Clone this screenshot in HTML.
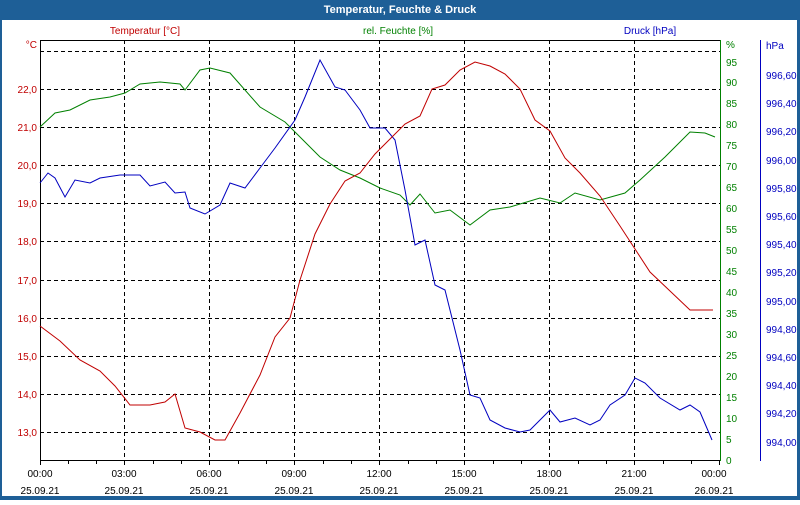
<!DOCTYPE html>
<html><head><meta charset="utf-8"><style>
body{margin:0;width:800px;height:500px;overflow:hidden;background:#fff;font-family:"Liberation Sans",sans-serif}
</style></head><body>
<svg width="800" height="500" xmlns="http://www.w3.org/2000/svg" font-family="Liberation Sans, sans-serif" font-size="10">
<rect x="0" y="0" width="800" height="500" fill="#1e5f97"/>
<rect x="2" y="20" width="795" height="476" fill="#fff"/>
<text x="400" y="13" fill="#fff" font-weight="bold" font-size="11" text-anchor="middle">Temperatur, Feuchte &amp; Druck</text>
<text x="145" y="34" fill="#c00000" text-anchor="middle">Temperatur [°C]</text>
<text x="398" y="34" fill="#008000" text-anchor="middle">rel. Feuchte [%]</text>
<text x="650" y="34" fill="#0000c0" text-anchor="middle">Druck [hPa]</text>
<g stroke="#000" stroke-dasharray="4,3" stroke-width="1">
<line x1="40" y1="51.5" x2="720" y2="51.5"/><line x1="40" y1="89.5" x2="720" y2="89.5"/><line x1="40" y1="127.5" x2="720" y2="127.5"/><line x1="40" y1="165.5" x2="720" y2="165.5"/><line x1="40" y1="203.5" x2="720" y2="203.5"/><line x1="40" y1="241.5" x2="720" y2="241.5"/><line x1="40" y1="280.5" x2="720" y2="280.5"/><line x1="40" y1="318.5" x2="720" y2="318.5"/><line x1="40" y1="356.5" x2="720" y2="356.5"/><line x1="40" y1="394.5" x2="720" y2="394.5"/><line x1="40" y1="432.5" x2="720" y2="432.5"/>
<line x1="124.5" y1="40" x2="124.5" y2="460"/><line x1="209.5" y1="40" x2="209.5" y2="460"/><line x1="294.5" y1="40" x2="294.5" y2="460"/><line x1="379.5" y1="40" x2="379.5" y2="460"/><line x1="464.5" y1="40" x2="464.5" y2="460"/><line x1="549.5" y1="40" x2="549.5" y2="460"/><line x1="634.5" y1="40" x2="634.5" y2="460"/>
</g>
<line x1="40.5" y1="40" x2="40.5" y2="460" stroke="#000"/>
<line x1="40" y1="40.5" x2="720" y2="40.5" stroke="#000"/>
<line x1="40" y1="460.5" x2="720" y2="460.5" stroke="#000"/>
<g stroke="#000">
<line x1="40.5" y1="460" x2="40.5" y2="465"/><line x1="68.5" y1="460" x2="68.5" y2="464"/><line x1="96.5" y1="460" x2="96.5" y2="464"/><line x1="124.5" y1="460" x2="124.5" y2="465"/><line x1="153.5" y1="460" x2="153.5" y2="464"/><line x1="181.5" y1="460" x2="181.5" y2="464"/><line x1="209.5" y1="460" x2="209.5" y2="465"/><line x1="238.5" y1="460" x2="238.5" y2="464"/><line x1="266.5" y1="460" x2="266.5" y2="464"/><line x1="294.5" y1="460" x2="294.5" y2="465"/><line x1="323.5" y1="460" x2="323.5" y2="464"/><line x1="351.5" y1="460" x2="351.5" y2="464"/><line x1="379.5" y1="460" x2="379.5" y2="465"/><line x1="408.5" y1="460" x2="408.5" y2="464"/><line x1="436.5" y1="460" x2="436.5" y2="464"/><line x1="464.5" y1="460" x2="464.5" y2="465"/><line x1="493.5" y1="460" x2="493.5" y2="464"/><line x1="521.5" y1="460" x2="521.5" y2="464"/><line x1="549.5" y1="460" x2="549.5" y2="465"/><line x1="578.5" y1="460" x2="578.5" y2="464"/><line x1="606.5" y1="460" x2="606.5" y2="464"/><line x1="634.5" y1="460" x2="634.5" y2="465"/><line x1="663.5" y1="460" x2="663.5" y2="464"/><line x1="691.5" y1="460" x2="691.5" y2="464"/><line x1="719.5" y1="460" x2="719.5" y2="465"/>
</g>
<line x1="720.5" y1="40" x2="720.5" y2="461" stroke="#008000"/>
<line x1="760.5" y1="40" x2="760.5" y2="461" stroke="#0000c0"/>
<g fill="#c00000" text-anchor="end">
<text x="37" y="48">°C</text><text x="37" y="93">22,0</text><text x="37" y="131">21,0</text><text x="37" y="169">20,0</text><text x="37" y="207">19,0</text><text x="37" y="245">18,0</text><text x="37" y="284">17,0</text><text x="37" y="322">16,0</text><text x="37" y="360">15,0</text><text x="37" y="398">14,0</text><text x="37" y="436">13,0</text>
</g>
<g fill="#008000">
<text x="726" y="48">%</text><text x="726" y="66">95</text><text x="726" y="86">90</text><text x="726" y="107">85</text><text x="726" y="128">80</text><text x="726" y="149">75</text><text x="726" y="170">70</text><text x="726" y="191">65</text><text x="726" y="212">60</text><text x="726" y="233">55</text><text x="726" y="254">50</text><text x="726" y="275">45</text><text x="726" y="296">40</text><text x="726" y="317">35</text><text x="726" y="338">30</text><text x="726" y="359">25</text><text x="726" y="380">20</text><text x="726" y="401">15</text><text x="726" y="422">10</text><text x="726" y="443">5</text><text x="726" y="464">0</text>
</g>
<g fill="#0000c0">
<text x="766" y="49">hPa</text><text x="766" y="79">996,60</text><text x="766" y="107">996,40</text><text x="766" y="135">996,20</text><text x="766" y="164">996,00</text><text x="766" y="192">995,80</text><text x="766" y="220">995,60</text><text x="766" y="248">995,40</text><text x="766" y="276">995,20</text><text x="766" y="305">995,00</text><text x="766" y="333">994,80</text><text x="766" y="361">994,60</text><text x="766" y="389">994,40</text><text x="766" y="417">994,20</text><text x="766" y="446">994,00</text>
</g>
<g fill="#000" text-anchor="middle">
<text x="40" y="477">00:00</text><text x="124" y="477">03:00</text><text x="209" y="477">06:00</text><text x="294" y="477">09:00</text><text x="379" y="477">12:00</text><text x="464" y="477">15:00</text><text x="549" y="477">18:00</text><text x="634" y="477">21:00</text><text x="714" y="477">00:00</text>
<text x="40" y="494">25.09.21</text><text x="124" y="494">25.09.21</text><text x="209" y="494">25.09.21</text><text x="294" y="494">25.09.21</text><text x="379" y="494">25.09.21</text><text x="464" y="494">25.09.21</text><text x="549" y="494">25.09.21</text><text x="634" y="494">25.09.21</text><text x="714" y="494">26.09.21</text>
</g>
<polyline fill="none" stroke="#008000" points="40,127 55,113 70,110 90,100 110,97 125,93 140,84 160,82 180,84 185,90 200,70 210,68 230,73 260,107 285,122 300,137 320,157 340,170 360,178 380,188 400,195 410,205 420,194 435,213 450,210 470,225 490,210 510,207 540,198 560,203 575,193 600,200 625,193 640,180 665,157 690,132 705,133 715,137"/>
<polyline fill="none" stroke="#0000c0" points="40,183 48,173 55,178 65,197 75,180 90,183 100,178 120,175 140,175 150,186 165,182 175,193 185,192 190,208 205,214 220,205 230,183 245,188 260,168 275,148 295,120 305,97 320,60 335,87 345,90 360,110 370,128 385,128 395,140 405,190 415,245 425,240 435,285 445,290 460,350 470,395 480,398 490,420 505,428 520,432 530,430 550,410 560,422 575,418 590,425 600,420 610,405 625,395 635,378 645,383 660,398 680,410 690,405 700,412 712,440"/>
<polyline fill="none" stroke="#c00000" points="40,326 60,341 80,360 100,371 115,386 130,405 150,405 165,402 175,394 185,428 200,432 215,440 225,440 240,413 260,375 275,337 290,318 300,280 315,234 330,204 345,181 360,173 375,154 390,139 405,124 420,116 432,89 445,85 460,70 475,62 490,66 505,74 520,89 535,120 550,131 565,158 580,173 600,196 620,226 635,249 650,272 670,291 690,310 713,310"/>
</svg>
</body></html>
